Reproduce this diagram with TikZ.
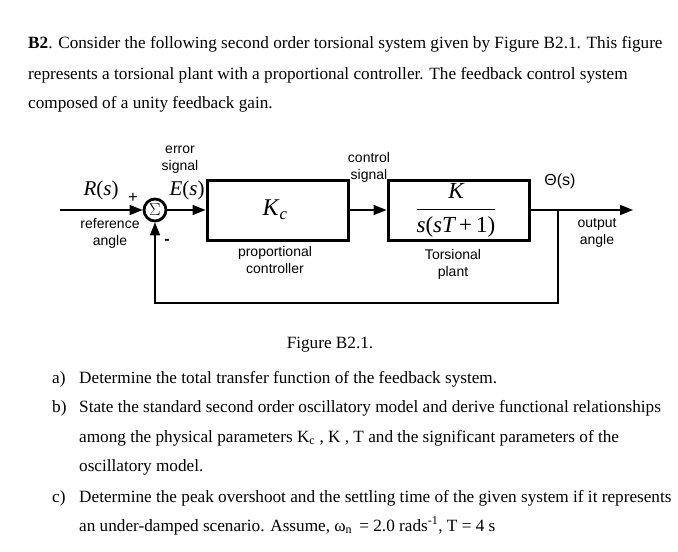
\documentclass[tikz,border=0pt]{standalone}
\usepackage{fontspec}
\setmainfont{Liberation Serif}
\newfontfamily\arial{Liberation Sans}
\usetikzlibrary{arrows.meta}
\begin{document}
\begin{tikzpicture}[x=1pt,y=-1pt,
  txt/.style={anchor=base west,inner sep=0pt,font=\fontsize{17.2}{20}\selectfont},
  lbl/.style={inner sep=0pt,font=\arial\fontsize{14}{17}\selectfont,align=center},
  mlbl/.style={inner sep=0pt,font=\fontsize{21}{24}\selectfont},
  blk/.style={draw,line width=3pt,minimum width=141pt,minimum height=60pt,inner sep=0pt},
  sig/.style={line width=1.7pt,-{Triangle[length=13pt,width=10pt]}},
  wire/.style={line width=1.7pt}]
\useasboundingbox (0,0) rectangle (678,552);

% question text
\node[txt] (l1) at (28,48) {\textbf{B2}. Consider the following second order torsional system given by Figure B2.1. This figure};
\node[txt] (l2) at (28,79) {represents a torsional plant with a proportional controller. The feedback control system};
\node[txt] (l3) at (28,108) {composed of a unity feedback gain.};

% diagram
\node[draw,circle,line width=2.8pt,minimum size=22pt,inner sep=0pt,font=\fontsize{19}{19}\selectfont] (sum) at (155,210) {$\Sigma$};
\node[blk] (kc) at (277.5,210) {};
\node[mlbl,font=\fontsize{24}{26}\selectfont] (kct) at (275,210) {\textit{K}\textsubscript{\textit{c}}};
\node[blk] (plant) at (458.5,210) {};
\node[mlbl,font=\fontsize{23}{26}\selectfont] (tf) at (456,210) {$\displaystyle\frac{\textit{K}}{\textit{s}\textup{(}\textit{sT}\,\textup{+}\,\textup{1)}}$};

\coordinate (in) at (60,210);
\coordinate (branch) at (558,210);
\coordinate (out) at (633,210);
\coordinate (fb) at (558,303);

\draw[sig] (in) -- (sum.west);
\draw[sig] (sum.east) -- (kc.west);
\draw[sig] (kc.east) -- (plant.west);
\draw[wire] (plant.east) -- (branch);
\draw[sig] (branch) -- (out);
\draw[sig] (branch) -- (fb) -| (sum.south);

\node[mlbl] (rs) at (101,190) {\textit{R}(\textit{s})};
\node[mlbl] (es) at (187,190) {\textit{E}(\textit{s})};
\node[lbl,font=\arial\fontsize{16}{16}\selectfont] (plus) at (133,198) {+};
\node[lbl,font=\arial\bfseries\fontsize{16}{16}\selectfont] (minus) at (167,242) {-};
\node[lbl] (ref) at (110,233) {reference\\angle};
\node[lbl] (err) at (180,160) {error\\signal};
\node[lbl] (ctl) at (369,167) {control\\signal};
\node[lbl] (pc) at (275,260) {proportional\\controller};
\node[lbl] (tp) at (453,264) {Torsional\\plant};
\node[lbl,font=\arial\fontsize{16}{18}\selectfont] (th) at (560,181) {Θ(s)};
\node[lbl] (oa) at (597,233) {output\\angle};

% caption and questions
\node[txt,anchor=base] (cap) at (330,348) {Figure B2.1.};
\node[txt] (qa) at (52,383) {a)};
\node[txt] (qat) at (79,383) {Determine the total transfer function of the feedback system.};
\node[txt] (qb) at (52,412) {b)};
\node[txt] (qbt) at (79,412) {State the standard second order oscillatory model and derive functional relationships};
\node[txt] (qb2) at (79,442) {among the physical parameters K\textsubscript{c} , K , T and the significant parameters of the};
\node[txt] (qb3) at (79,471) {oscillatory model.};
\node[txt] (qc) at (52,502) {c)};
\node[txt] (qct) at (79,502) {Determine the peak overshoot and the settling time of the given system if it represents};
\node[txt] (qc2) at (79,531) {an under-damped scenario. Assume, ω\textsubscript{n} \,= 2.0 rads\textsuperscript{-1}, T = 4 s};
\end{tikzpicture}
\end{document}
